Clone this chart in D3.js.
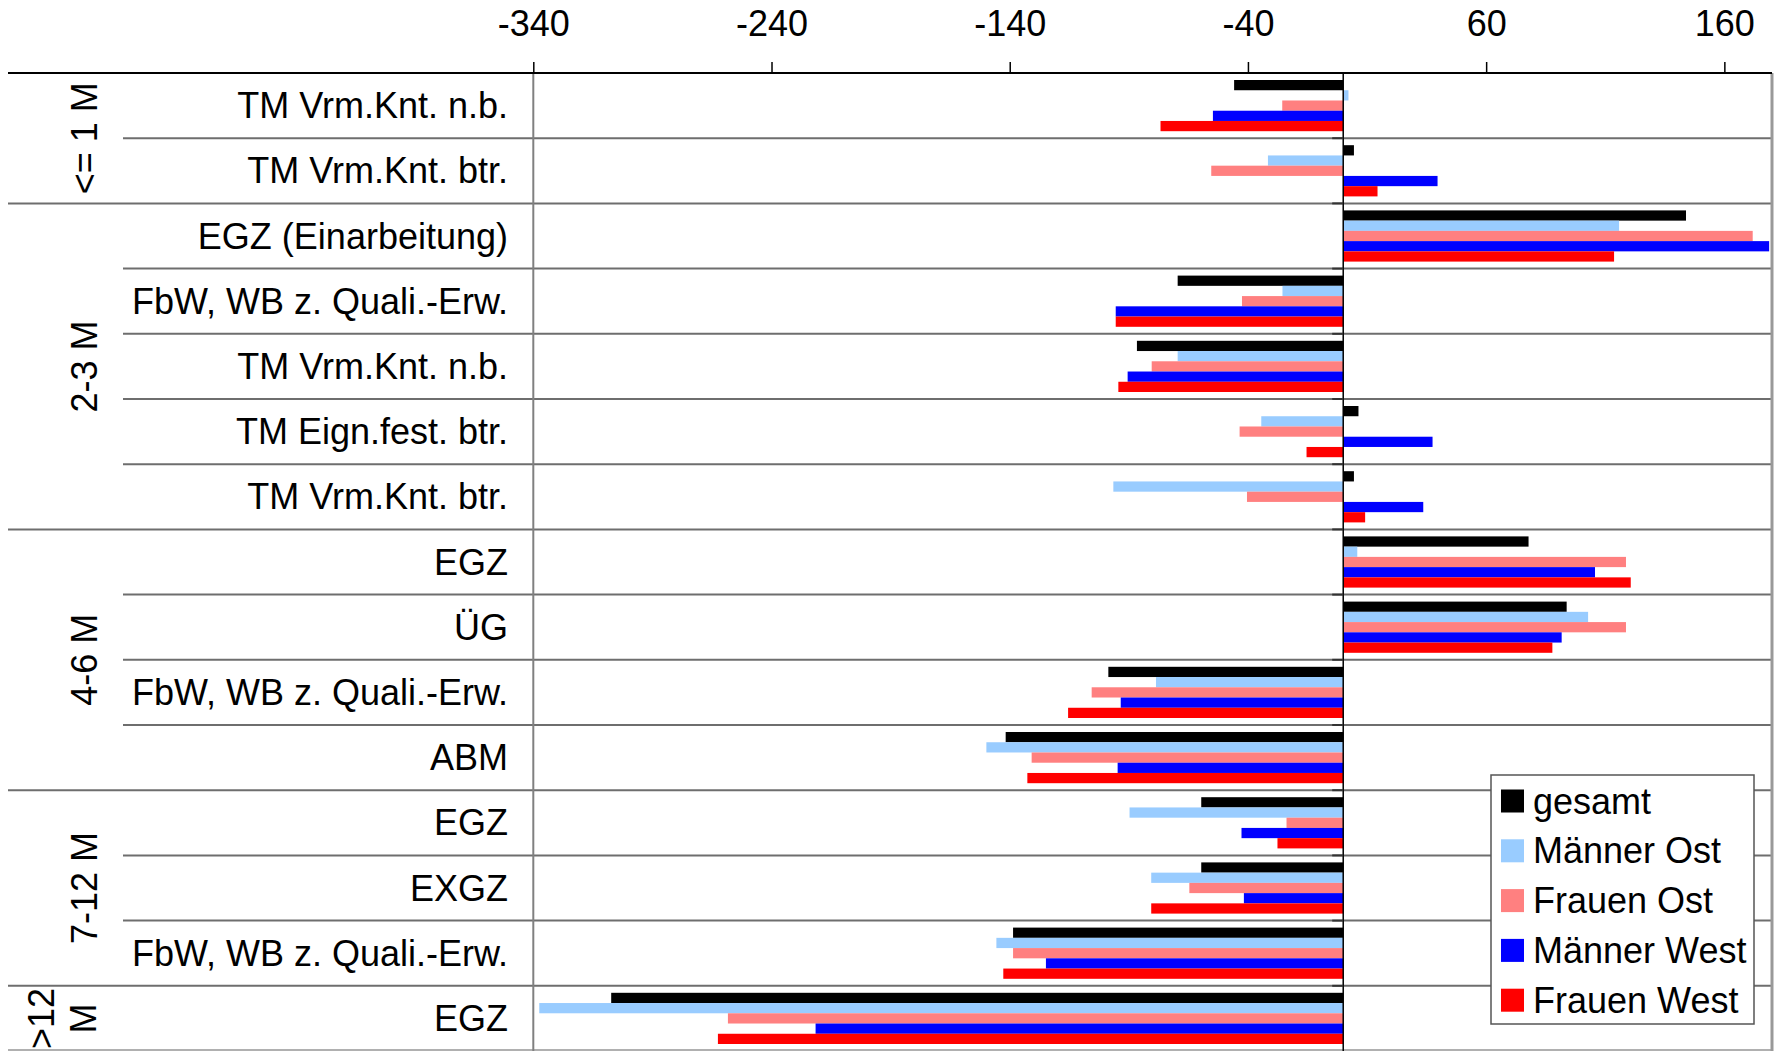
<!DOCTYPE html>
<html>
<head>
<meta charset="utf-8">
<script src="https://cdn.jsdelivr.net/npm/d3@7"></script>
<style>
  html, body { margin: 0; padding: 0; background: #fff; }
  svg { display: block; }
  text { font-family: "Liberation Sans", Arial, sans-serif; fill: #000; }
</style>
</head>
<body>
<svg id="chart" width="1779" height="1052"></svg>
<script>
// Measures by time-in-unemployment group
const groups = ["<= 1 M", "2-3 M", "4-6 M", "7-12 M", ">12 M"];
const groupSizes = [2, 5, 4, 3, 1];
const categories = [
  "TM Vrm.Knt. n.b.", "TM Vrm.Knt. btr.",
  "EGZ (Einarbeitung)", "FbW, WB z. Quali.-Erw.", "TM Vrm.Knt. n.b.", "TM Eign.fest. btr.", "TM Vrm.Knt. btr.",
  "EGZ", "ÜG", "FbW, WB z. Quali.-Erw.", "ABM",
  "EGZ", "EXGZ", "FbW, WB z. Quali.-Erw.",
  "EGZ"
];
const seriesNames = ["gesamt", "Männer Ost", "Frauen Ost", "Männer West", "Frauen West"];
const gesamt      = [-45.8, 4.5, 143.9, -69.5, -86.6, 6.4, 4.5, 77.8, 93.8, -98.6, -141.7, -59.6, -59.6, -138.6, -307.3];
const maennerOst  = [2.2, -31.6, 115.8, -25.5, -69.5, -34.4, -96.5, 5.9, 102.8, -78.6, -149.8, -89.7, -80.6, -145.6, -337.5];
const frauenOst   = [-25.6, -55.4, 171.9, -42.5, -80.4, -43.5, -40.4, 118.7, 118.7, -105.6, -130.8, -23.8, -64.6, -138.6, -258.3];
const maennerWest = [-54.7, 39.6, 178.8, -95.5, -90.5, 37.5, 33.6, 105.7, 91.7, -93.4, -94.7, -42.7, -41.7, -124.8, -221.5];
const frauenWest  = [-76.7, 14.4, 113.7, -95.5, -94.4, -15.4, 9.2, 120.7, 87.8, -115.5, -132.6, -27.6, -80.6, -142.7, -262.5];
const tickValues = [-340, -240, -140, -40, 60, 160];

const seriesValues = [gesamt, maennerOst, frauenOst, maennerWest, frauenWest];
const colors = ["#000000", "#99CCFF", "#FF8080", "#0000FF", "#FF0000"];

const svg = d3.select("#chart");
const plotLeft = 533.3, plotRight = 1772, plotTop = 73, plotBottom = 1051;
const fontSize = 36;

const x = d3.scaleLinear().domain([-340, 180]).range([plotLeft, plotRight]);
const y = d3.scaleBand().domain(d3.range(categories.length)).range([plotTop, plotBottom]).padding(0);
const rowH = y.bandwidth();
const ys = d3.scaleBand().domain(d3.range(seriesNames.length)).range([7, rowH - 7]).padding(0);

// first row index of each group
const groupStarts = [];
groupSizes.reduce((acc, n) => { groupStarts.push(acc); return acc + n; }, 0);

// horizontal row separators
const gridG = svg.append("g");
for (let i = 1; i < categories.length; i++) {
  const isGroup = groupStarts.includes(i);
  gridG.append("line")
    .attr("x1", isGroup ? 8 : 123).attr("x2", plotRight)
    .attr("y1", y(i)).attr("y2", y(i))
    .attr("stroke", "#6e6e6e").attr("stroke-width", 2);
}
gridG.append("line")
  .attr("x1", 8).attr("x2", plotRight).attr("y1", plotBottom - 1).attr("y2", plotBottom - 1)
  .attr("stroke", "#b0b0b0").attr("stroke-width", 2);

// plot frame verticals
svg.append("line").attr("x1", plotLeft).attr("x2", plotLeft).attr("y1", plotTop).attr("y2", plotBottom)
  .attr("stroke", "#808080").attr("stroke-width", 2);
svg.append("line").attr("x1", plotRight).attr("x2", plotRight).attr("y1", plotTop).attr("y2", plotBottom)
  .attr("stroke", "#999999").attr("stroke-width", 3);

// bars
const barsG = svg.append("g");
seriesValues.forEach((vals, s) => {
  barsG.selectAll(null)
    .data(vals)
    .join("rect")
    .attr("x", d => Math.min(x(0), x(d)))
    .attr("width", d => Math.abs(x(d) - x(0)))
    .attr("y", (d, i) => y(i) + ys(s))
    .attr("height", ys.bandwidth())
    .attr("fill", colors[s]);
});

// zero axis with small category ticks
svg.append("line").attr("x1", x(0)).attr("x2", x(0)).attr("y1", plotTop).attr("y2", plotBottom)
  .attr("stroke", "#000").attr("stroke-width", 1.5);
for (let i = 1; i < categories.length; i++) {
  svg.append("line").attr("x1", x(0) - 11).attr("x2", x(0))
    .attr("y1", y(i)).attr("y2", y(i))
    .attr("stroke", "#333").attr("stroke-width", 2);
}

// top value axis (plain hyphen-minus in labels)
const axis = d3.axisTop(x).tickValues(tickValues).tickSize(11).tickPadding(3).tickFormat(d => String(d));
const axG = svg.append("g").attr("transform", `translate(0,${plotTop})`).call(axis);
axG.select(".domain").remove();
axG.selectAll(".tick line").attr("stroke", "#000").attr("stroke-width", 1.5);
axG.selectAll(".tick text")
  .attr("font-size", fontSize).attr("font-family", "Liberation Sans, Arial, sans-serif")
  .attr("y", 36 - plotTop).attr("dy", null);
svg.append("line").attr("x1", 8).attr("x2", plotRight).attr("y1", plotTop).attr("y2", plotTop)
  .attr("stroke", "#000").attr("stroke-width", 2);

// category labels
svg.append("g").selectAll("text")
  .data(categories)
  .join("text")
  .attr("x", 508)
  .attr("y", (d, i) => y(i) + rowH / 2)
  .attr("text-anchor", "end")
  .attr("dominant-baseline", "central")
  .attr("font-size", fontSize)
  .text(d => d);

// rotated group labels
groups.forEach((g, gi) => {
  const y0 = y(groupStarts[gi]);
  const y1 = y0 + groupSizes[gi] * rowH;
  const cy = (y0 + y1) / 2;
  if (g === ">12 M") {
    const parts = g.split(" ");
    [[parts[0], 41], [parts[1], 83]].forEach(([t, cx]) => {
      svg.append("text")
        .attr("transform", `translate(${cx},${cy}) rotate(-90)`)
        .attr("text-anchor", "middle").attr("dominant-baseline", "central")
        .attr("font-size", fontSize).text(t);
    });
  } else {
    svg.append("text")
      .attr("transform", `translate(84,${cy}) rotate(-90)`)
      .attr("text-anchor", "middle").attr("dominant-baseline", "central")
      .attr("font-size", fontSize).text(g);
  }
});

// legend
const lg = svg.append("g").attr("transform", "translate(1491,775)");
lg.append("rect").attr("width", 263).attr("height", 249)
  .attr("fill", "#fff").attr("stroke", "#555").attr("stroke-width", 1.5);
seriesNames.forEach((name, i) => {
  const cy = 26 + i * 49.8;
  lg.append("rect").attr("x", 10).attr("y", cy - 11.5).attr("width", 23).attr("height", 23)
    .attr("fill", colors[i]);
  lg.append("text").attr("x", 42).attr("y", cy)
    .attr("dominant-baseline", "central").attr("font-size", fontSize).text(name);
});
</script>
</body>
</html>
